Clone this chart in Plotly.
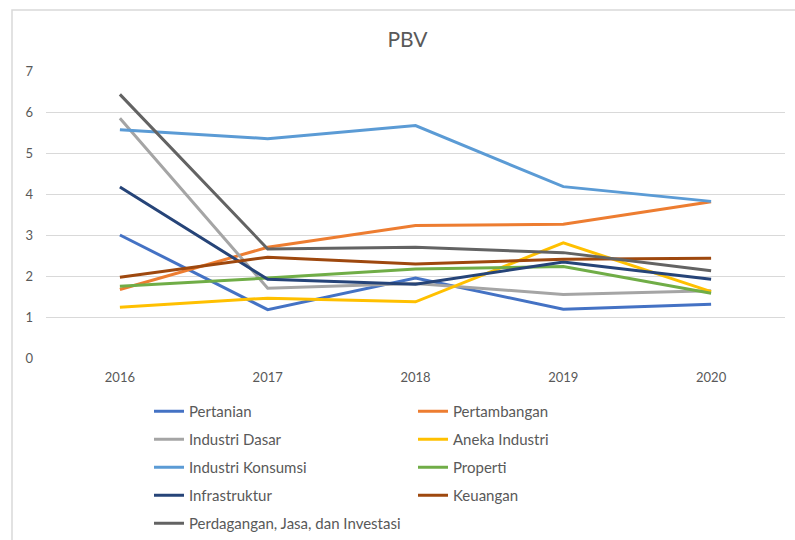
import plotly.graph_objects as go

years = ["2016", "2017", "2018", "2019", "2020"]
series_names = ["Pertanian", "Pertambangan", "Industri Dasar", "Aneka Industri",
                "Industri Konsumsi", "Properti", "Infrastruktur", "Keuangan",
                "Perdagangan, Jasa, dan Investasi"]
pertanian = [3.00, 1.18, 1.95, 1.19, 1.31]
pertambangan = [1.67, 2.70, 3.23, 3.26, 3.81]
industri_dasar = [5.85, 1.70, 1.82, 1.55, 1.64]
aneka_industri = [1.24, 1.46, 1.37, 2.81, 1.62]
industri_konsumsi = [5.57, 5.35, 5.67, 4.18, 3.82]
properti = [1.75, 1.95, 2.17, 2.23, 1.58]
infrastruktur = [4.17, 1.92, 1.80, 2.34, 1.92]
keuangan = [1.97, 2.46, 2.29, 2.41, 2.43]
perdagangan = [6.43, 2.66, 2.70, 2.57, 2.13]
values = [pertanian, pertambangan, industri_dasar, aneka_industri,
          industri_konsumsi, properti, infrastruktur, keuangan, perdagangan]
colors = ["#4472C4", "#ED7D31", "#A5A5A5", "#FFC000", "#5B9BD5",
          "#70AD47", "#264478", "#9E480E", "#636363"]

FONT = "Lato"
TXT = "#595959"

fig = go.Figure()
for i, (name, vals, col) in enumerate(zip(series_names, values, colors)):
    fig.add_trace(go.Scatter(
        x=years, y=vals, name=name, mode="lines",
        line=dict(color=col, width=3),
        legend="legend" if i % 2 == 0 else "legend2",
        legendgroup=name,
    ))

L, R, T, B = 46, 10, 71, 182
W, H = 795, 540
pw, ph = W - L - R, H - T - B

def px_x(x):
    return (x - L) / pw

def px_y(y):
    return 1 - (y - T) / ph

leg_common = dict(
    orientation="v", xanchor="left", yanchor="top",
    font=dict(family=FONT, size=15, color=TXT),
    bgcolor="rgba(0,0,0,0)", tracegroupgap=5.5, itemwidth=30,
)

fig.update_layout(
    width=W, height=H,
    margin=dict(l=L, r=R, t=T, b=B, autoexpand=False),
    paper_bgcolor="white", plot_bgcolor="white",
    title=dict(text="PBV", xref="container", x=407.5 / W, xanchor="center",
               y=1 - 40 / H, yanchor="middle",
               font=dict(family=FONT, size=21, color=TXT)),
    xaxis=dict(type="category", range=[-0.5, 4.5], showgrid=False, showline=False,
               zeroline=False, ticks="", tickfont=dict(family=FONT, size=13, color=TXT),
               ticklabelstandoff=10),
    yaxis=dict(range=[0, 7], dtick=1, showgrid=True, gridcolor="#D9D9D9", gridwidth=1,
               zeroline=False, showline=False, ticks="",
               tickfont=dict(family=FONT, size=13, color=TXT),
               ticklabelstandoff=12),
    legend=dict(x=px_x(149), y=px_y(395), **leg_common),
    legend2=dict(x=px_x(413), y=px_y(395), **leg_common),
    showlegend=True,
    shapes=[dict(type="rect", xref="paper", yref="paper",
                 x0=px_x(12), x1=1.2, y0=-1.0, y1=px_y(10),
                 line=dict(color="#D9D9D9", width=1.5), fillcolor="rgba(0,0,0,0)",
                 layer="below")],
)

fig.write_html("out.html", config={"displayModeBar": False},
               post_script="document.body.style.margin='0';document.body.style.padding='0';")
